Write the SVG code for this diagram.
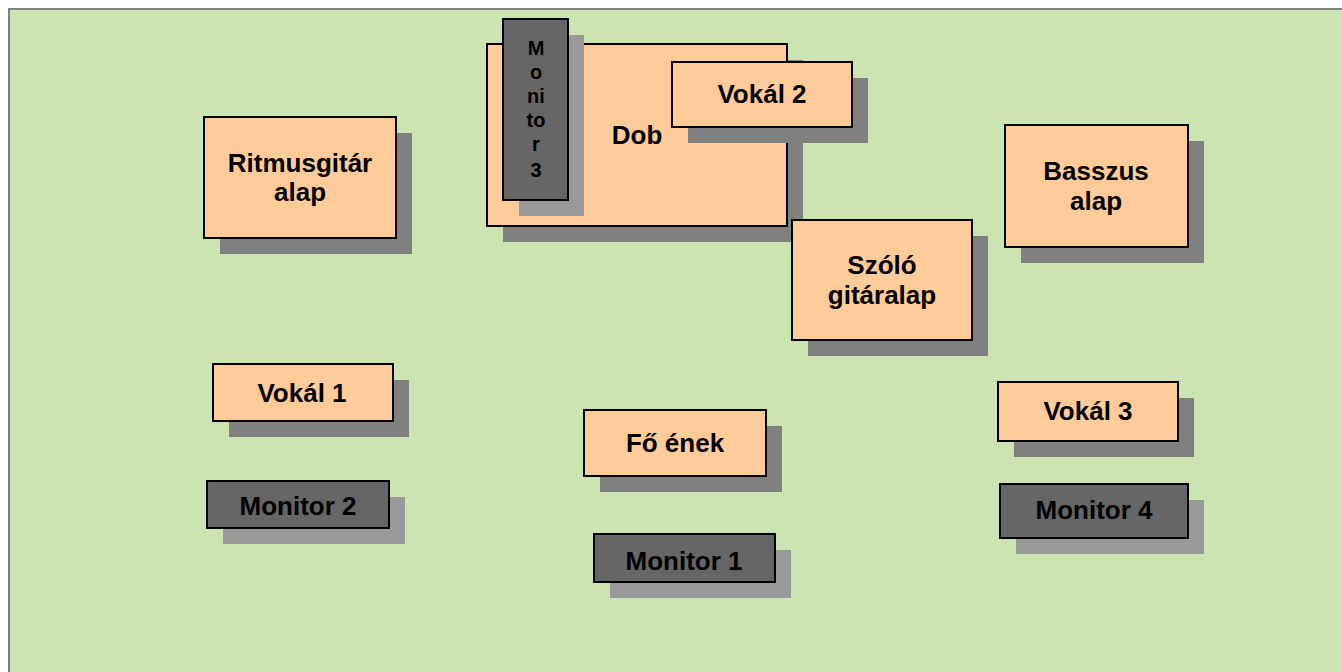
<svg xmlns="http://www.w3.org/2000/svg" width="1342" height="672" viewBox="0 0 1342 672">
<style>
.bg{fill:#CBE4B2;stroke:#808080;stroke-width:2}
.sh{fill:#808080}
.msh{fill:#999999}
.box{fill:#FFCC99;stroke:#000;stroke-width:2}
.mon{fill:#666666;stroke:#000;stroke-width:2}
text{font-family:"Liberation Sans",Arial,sans-serif;font-weight:bold;font-size:26px;fill:#000;text-anchor:middle}
.sm{font-size:20px}
</style>
<rect width="1342" height="672" fill="#ffffff"/>
<rect class="bg" x="9" y="9" width="1400" height="700"/>
<g id="connectors"/>
<g id="ritmusgitar">
<rect class="sh" x="220" y="133" width="192" height="121"/>
<rect class="box" x="204" y="117" width="192" height="121"/>
<text x="300" y="172">Ritmusgitár</text>
<text x="300" y="201">alap</text>
</g>
<g id="dob">
<rect class="sh" x="503" y="60" width="300" height="182"/>
<rect class="box" x="487" y="44" width="300" height="182"/>
<text x="637" y="144">Dob</text>
</g>
<g id="monitor3">
<rect class="msh" x="519" y="35" width="65" height="181"/>
<rect class="mon" x="503" y="19" width="65" height="181"/>
<text class="sm" x="536" y="55">M</text>
<text class="sm" x="536" y="79">o</text>
<text class="sm" x="536" y="103">ni</text>
<text class="sm" x="536" y="127">to</text>
<text class="sm" x="536" y="151">r</text>
<text class="sm" x="536" y="177">3</text>
</g>
<g id="vokal2">
<rect class="sh" x="688" y="78" width="180" height="65"/>
<rect class="box" x="672" y="62" width="180" height="65"/>
<text x="762" y="103">Vokál 2</text>
</g>
<g id="basszus">
<rect class="sh" x="1021" y="141" width="183" height="122"/>
<rect class="box" x="1005" y="125" width="183" height="122"/>
<text x="1096" y="180">Basszus</text>
<text x="1096" y="210">alap</text>
</g>
<g id="szolo">
<rect class="sh" x="808" y="236" width="180" height="120"/>
<rect class="box" x="792" y="220" width="180" height="120"/>
<text x="882" y="274">Szóló</text>
<text x="882" y="304">gitáralap</text>
</g>
<g id="vokal1">
<rect class="sh" x="229" y="380" width="180" height="57"/>
<rect class="box" x="213" y="364" width="180" height="57"/>
<text x="302" y="402">Vokál 1</text>
</g>
<g id="vokal3">
<rect class="sh" x="1014" y="398" width="180" height="59"/>
<rect class="box" x="998" y="382" width="180" height="59"/>
<text x="1088" y="420">Vokál 3</text>
</g>
<g id="foenek">
<rect class="sh" x="600" y="426" width="182" height="66"/>
<rect class="box" x="584" y="410" width="182" height="66"/>
<text x="675" y="452">Fő ének</text>
</g>
<g id="monitor2">
<rect class="msh" x="223" y="497" width="182" height="47"/>
<rect class="mon" x="207" y="481" width="182" height="47"/>
<text x="298" y="515">Monitor 2</text>
</g>
<g id="monitor1">
<rect class="msh" x="610" y="550" width="181" height="48"/>
<rect class="mon" x="594" y="534" width="181" height="48"/>
<text x="684" y="570">Monitor 1</text>
</g>
<g id="monitor4">
<rect class="msh" x="1016" y="500" width="188" height="54"/>
<rect class="mon" x="1000" y="484" width="188" height="54"/>
<text x="1094" y="519">Monitor 4</text>
</g>
</svg>
